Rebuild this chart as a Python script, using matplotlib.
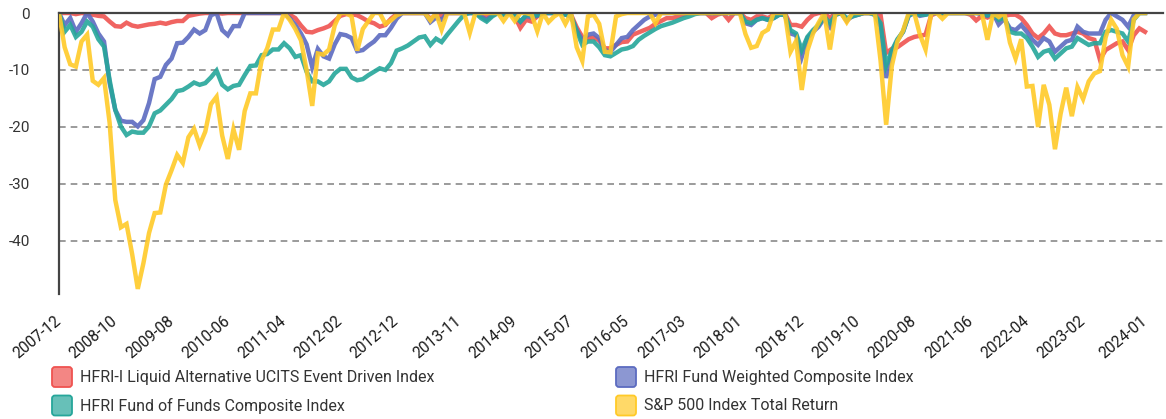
import numpy as np
import pandas as pd
import matplotlib
matplotlib.use("Agg")
import matplotlib.pyplot as plt
from matplotlib.patches import FancyBboxPatch

plt.rcParams['font.family'] = ['Roboto', 'DejaVu Sans']

# monthly drawdowns (%), 2007-12 .. 2024-01
months = list(pd.date_range('2007-12-01', '2024-01-01', freq='MS').strftime('%Y-%m'))

event_driven = (
    [0.0]
    + [0, 0, -0.2, 0, -0.1, -0.3, -0.5, -0.6, -1.5, -2.3, -2.4, -1.7]            # 2008
    + [-2.2, -2.4, -2.2, -2.0, -1.9, -1.7, -1.9, -1.6, -1.4, -1.4, -0.5, -0.3]   # 2009
    + [-0.1, 0, 0, 0, -0.1, 0, 0, 0, 0, 0, 0, 0]                                 # 2010
    + [0, 0, 0, 0, -0.3, -0.9, -2.2, -3.3, -3.4, -3.0, -2.7, -2.3]               # 2011
    + [-1.4, -0.5, -0.2, -0.2, -0.4, -0.9, -1.5, -1.8, -2.4, -2.1, -1.0, -0.2]   # 2012
    + [0, 0, 0, 0, 0, -1.0, -0.4, -0.6, 0, 0, 0, 0]                              # 2013
    + [0, 0, -0.4, -0.6, 0, 0, -0.3, 0, -0.6, -2.6, -1.2, -1.5]                  # 2014
    + [-0.6, 0, 0, 0, 0, -0.2, -0.3, -2.5, -4.2, -4.4, -4.3, -4.8]               # 2015
    + [-6.2, -6.2, -5.6, -5.1, -5.0, -3.8, -3.4, -3.0, -2.6, -1.9, -1.4, -0.9]   # 2016
    + [-0.9, -0.6, -0.3, 0, 0, 0, 0, -0.9, -0.3, 0, -1.2, 0]                     # 2017
    + [0, -0.9, -1.2, -0.6, -0.6, -0.9, -0.3, 0, 0, -2.1, -2.1, -2.4]            # 2018
    + [-1.2, -0.3, 0, 0, -0.9, 0, 0, -1.4, -0.3, -0.3, 0, 0]                     # 2019
    + [0, -0.3, -7.0, -6.3, -6.0, -5.3, -4.6, -4.2, -4.0, -3.8, -0.4, 0]         # 2020
    + [-0.2, 0, 0, 0, 0, -0.3, -1.3, -0.5, -0.8, -0.3, -0.6, -0.5]               # 2021
    + [-0.3, -0.3, -0.9, -2.1, -3.6, -4.4, -3.6, -2.4, -3.6, -3.9, -3.9, -3.6]   # 2022
    + [-3.3, -3.6, -4.4, -4.7, -8.2, -6.5, -5.9, -5.3, -5.0, -6.5, -3.9, -2.7]   # 2023
    + [-3.3]
)

fund_weighted = (
    [0.0]
    + [-2.1, -0.9, -3.3, -1.8, 0, -1.5, -3.6, -5.0, -12.3, -17.0, -18.9, -19.1]
    + [-19.1, -19.9, -18.8, -15.8, -11.6, -11.2, -9.1, -8.0, -5.3, -5.2, -4.2, -2.9]
    + [-3.6, -3.0, -0.4, 0, -3.0, -3.9, -2.3, -2.3, 0, 0, 0, 0]
    + [0, 0, 0, 0, -0.9, -2.1, -3.6, -5.5, -9.5, -6.3, -7.6, -8.0]
    + [-5.5, -3.7, -3.9, -4.4, -6.7, -6.5, -5.7, -5.0, -3.9, -3.9, -2.6, -1.0]
    + [0, 0, 0, 0, 0, -1.6, -0.8, -1.2, 0, 0, 0, 0]
    + [0, 0, -0.6, -1.2, -0.4, 0, -0.3, 0, -0.3, -1.5, -0.5, -0.8]
    + [-0.5, 0, 0, 0, 0, -0.3, -0.6, -3.0, -4.8, -3.8, -3.6, -4.4]
    + [-6.5, -6.8, -5.6, -4.4, -4.2, -3.0, -2.1, -1.2, -0.6, -0.3, 0, 0]
    + [0, 0, 0, 0, 0, 0, 0, 0, 0, 0, 0, 0]
    + [0, -1.8, -2.1, -1.2, -0.9, -1.2, -0.9, -0.3, -0.3, -3.6, -3.9, -7.7]
    + [-4.4, -3.3, -2.4, -0.9, -2.4, -0.3, 0, -1.2, -0.6, -0.3, 0, 0]
    + [-0.3, -2.4, -11.4, -6.8, -4.8, -3.3, -0.5, 0, -0.5, -0.3, 0, 0]
    + [0, 0, 0, 0, 0, 0, 0, -0.2, -0.5, 0, -2.0, -1.0]
    + [-2.7, -3.0, -2.1, -3.3, -4.7, -5.6, -4.4, -5.0, -6.8, -5.9, -5.0, -4.7]
    + [-2.4, -3.3, -3.6, -3.6, -3.6, -1.2, 0, -0.6, -1.2, -2.4, -0.4, 0]
    + [0]
)

fund_of_funds = (
    [0.0]
    + [-3.3, -2.1, -4.2, -3.3, -1.5, -2.4, -4.6, -5.9, -11.8, -17.0, -19.9, -21.4]
    + [-20.8, -21.0, -21.0, -19.9, -17.6, -17.1, -16.1, -15.1, -13.7, -13.5, -12.9, -12.2]
    + [-12.6, -12.3, -11.3, -10.1, -12.6, -13.4, -12.8, -12.6, -10.9, -9.3, -9.2, -7.4]
    + [-7.2, -6.4, -6.4, -5.3, -6.2, -7.7, -7.4, -10.3, -12.0, -12.0, -12.6, -12.0]
    + [-10.6, -9.8, -9.8, -11.3, -11.8, -11.6, -10.9, -10.3, -9.7, -10.0, -8.8, -6.6]
    + [-6.2, -5.7, -5.0, -4.3, -4.1, -5.6, -4.5, -5.1, -3.8, -2.6, -1.4, -0.3]
    + [0, 0, -0.9, -1.5, -0.6, 0, -0.3, 0, -0.5, -1.5, -0.4, -0.4]
    + [-0.4, 0, 0, 0, 0, -0.3, -0.5, -3.2, -5.6, -5.0, -5.0, -6.0]
    + [-7.4, -7.6, -7.0, -6.4, -6.2, -5.8, -4.7, -4.0, -3.4, -2.8, -2.3, -2.0]
    + [-1.7, -1.3, -0.9, -0.6, -0.2, 0, 0, 0, 0, 0, 0, 0]
    + [0, -1.5, -1.8, -1.2, -0.9, -1.2, -0.9, -0.3, -0.3, -3.0, -3.6, -6.5]
    + [-4.2, -3.0, -2.1, -0.6, -1.8, -0.3, 0, -0.9, -0.6, -0.3, 0, 0]
    + [-0.3, -1.8, -9.2, -6.6, -4.6, -3.3, -0.4, 0, -0.3, -0.3, 0, 0]
    + [0, 0, 0, 0, 0, 0, 0, 0, -0.4, 0, -1.2, -0.8]
    + [-3.3, -3.6, -3.6, -4.4, -5.9, -7.7, -6.8, -6.5, -8.0, -7.1, -6.2, -5.9]
    + [-4.4, -5.0, -5.6, -5.3, -5.3, -3.3, -3.0, -3.3, -3.6, -5.0, -1.2, 0]
    + [0]
)

sp500 = (
    [0.0]
    + [-6.0, -9.0, -9.4, -5.0, -3.8, -11.9, -12.6, -11.4, -19.3, -32.8, -37.6, -37.0]
    + [-42.3, -48.4, -43.9, -38.6, -35.1, -35.0, -30.1, -27.6, -24.9, -26.3, -21.8, -20.3]
    + [-23.2, -20.8, -16.0, -14.7, -21.5, -25.6, -20.4, -24.0, -17.2, -14.1, -14.1, -8.3]
    + [-6.2, -2.9, -2.9, 0, -1.2, -2.8, -4.8, -10.0, -16.3, -7.1, -7.3, -6.4]
    + [-2.2, 0, 0, -0.6, -6.6, -2.8, -1.4, 0, 0, -1.9, -1.3, -0.4]
    + [0, 0, 0, 0, 0, -1.3, 0, -2.9, 0, 0, 0, 0]
    + [-3.5, 0, 0, 0, 0, 0, -1.4, 0, -1.4, 0, 0, -0.3]
    + [-3.2, 0, -1.6, -0.6, 0, -1.9, 0, -6.0, -8.4, -0.6, -0.3, -1.9]
    + [-6.8, -6.9, -0.6, -0.2, 0, 0, 0, 0, 0, -1.8, 0, 0]
    + [0, 0, 0, 0, 0, 0, 0, 0, 0, 0, 0, 0]
    + [0, -3.7, -6.1, -5.8, -3.5, -2.9, 0, 0, 0, -6.8, -4.9, -13.5]
    + [-6.6, -3.6, -1.7, 0, -6.4, 0, 0, -1.6, 0, 0, 0, 0]
    + [0, -8.3, -19.6, -9.3, -5.0, -3.1, 0, 0, -3.8, -6.4, 0, 0]
    + [-1.0, 0, 0, 0, 0, 0, 0, 0, -4.7, 0, -0.7, 0]
    + [-5.2, -8.0, -4.6, -12.9, -12.8, -20.0, -12.6, -16.1, -23.9, -17.7, -13.1, -18.1]
    + [-13.0, -15.1, -12.0, -10.6, -10.2, -4.3, -1.2, -2.8, -7.4, -9.4, -1.1, 0]
    + [0]
)

series_names = [
    'HFRI-I Liquid Alternative UCITS Event Driven Index',
    'HFRI Fund Weighted Composite Index',
    'HFRI Fund of Funds Composite Index',
    'S&P 500 Index Total Return',
]
series_values = [event_driven, fund_weighted, fund_of_funds, sp500]
colors = ['#EF5350', '#5C6BC0', '#26A69A', '#FFCA28']

xtick_labels = ['2007-12', '2008-10', '2009-08', '2010-06', '2011-04', '2012-02',
                '2012-12', '2013-11', '2014-09', '2015-07', '2016-05', '2017-03',
                '2018-01', '2018-12', '2019-10', '2020-08', '2021-06', '2022-04',
                '2023-02', '2024-01']
yticks = [0, -10, -20, -30, -40]

W, H = 1166, 419
fig = plt.figure(figsize=(W / 100, H / 100), dpi=100)
ax = fig.add_axes([59 / W, 1 - 294 / H, (1163 - 59) / W, (294 - 13) / H])

x = np.arange(len(months))
for vals, col in zip(series_values, colors):
    ax.plot(x, vals, color=col, lw=3.2, alpha=0.9, solid_joinstyle='miter', zorder=3)

ax.set_xlim(0, 196.2)
ax.set_ylim(-49.3, 0)

ax.axhline(0, color='#444444', lw=1.6, zorder=5, clip_on=False)
for s in ['top', 'right', 'bottom']:
    ax.spines[s].set_visible(False)
ax.spines['left'].set_color('#444444')
ax.spines['left'].set_linewidth(1.6)

ax.set_yticks(yticks)
ax.set_yticklabels([str(v) for v in yticks])
ax.yaxis.grid(True, linestyle=(0, (4, 3)), color='#8a8a8a', lw=1.2)
ax.set_axisbelow(True)
ax.tick_params(axis='y', length=0, pad=21, labelsize=11, labelcolor='#333333')

ax.set_xticks([months.index(m) for m in xtick_labels])
ax.set_xticklabels(xtick_labels, rotation=40, ha='right', va='center',
                   rotation_mode='anchor')
ax.tick_params(axis='x', length=0, pad=18, labelsize=11.2, labelcolor='#1a1a1a')

# legend, two columns
leg_pos = [(52, 377), (616, 377), (52, 405.5), (616, 405.5)]
for k, (px, py) in enumerate(leg_pos):
    box = FancyBboxPatch(((px + 2) / 100, (H - py - 8) / 100), 0.16, 0.16,
                         boxstyle='round,pad=0.02,rounding_size=0.03',
                         transform=fig.dpi_scale_trans, facecolor=colors[k],
                         alpha=0.7, edgecolor='none')
    fig.add_artist(box)
    edge = FancyBboxPatch(((px + 2) / 100, (H - py - 8) / 100), 0.16, 0.16,
                          boxstyle='round,pad=0.02,rounding_size=0.03',
                          transform=fig.dpi_scale_trans, facecolor='none',
                          edgecolor=colors[k], lw=1.3)
    fig.add_artist(edge)
    fig.text((px + 28) / 100, (H - py) / 100, series_names[k],
             transform=fig.dpi_scale_trans, va='center', ha='left',
             fontsize=11.5, color='#333333')

fig.savefig('out.png', dpi=100)
